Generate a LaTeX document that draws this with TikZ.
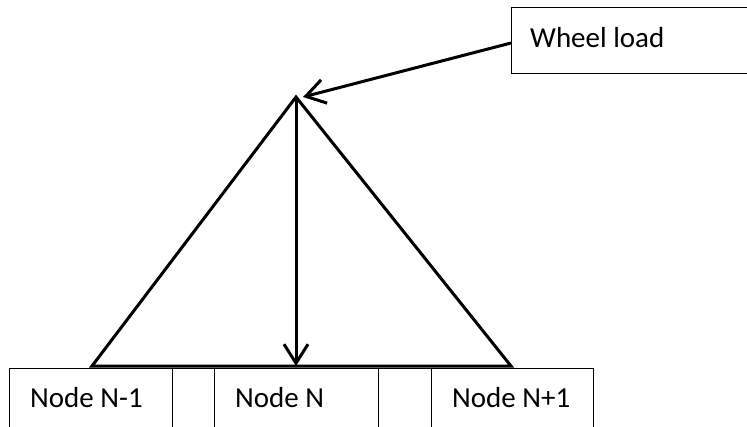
\documentclass[tikz,border=0pt]{standalone}
\usepackage{fontspec}
\setmainfont{Carlito}
\usetikzlibrary{arrows.meta}
\begin{document}
\begin{tikzpicture}[x=1pt,y=-1pt,
  cell/.style={draw, line width=1pt, minimum height=80pt, inner sep=0pt, anchor=north west},
  lbl/.style={font=\fontsize{29}{34}\selectfont, inner sep=0pt, anchor=base west},
  thickline/.style={line width=3pt, line join=miter},
  tip/.style={-{Straight Barb[length=19pt,width=24pt,line width=3pt]}}
]
\useasboundingbox (0,0) rectangle (747,426);
\clip (0,0) rectangle (747,426);
% bottom row of cells
\node[cell, minimum width=163pt] (c1) at (9,368) {};
\node[cell, minimum width=42pt]  (g1) at (172,368) {};
\node[cell, minimum width=164pt] (c2) at (214,368) {};
\node[cell, minimum width=53pt]  (g2) at (378,368) {};
\node[cell, minimum width=162pt] (c3) at (431,368) {};
\node[lbl] (t1) at (30,407) {Node N-1};
\node[lbl] (t2) at (235,407) {Node N};
\node[lbl] (t3) at (452,407) {Node N+1};
% wheel load box
\node[draw, line width=1pt, minimum width=250pt, minimum height=66pt, inner sep=0pt, anchor=north west] (wb) at (511,7) {};
\node[lbl] (wl) at (530,47) {Wheel load};
% triangle
\coordinate (L) at (92,366);
\coordinate (A) at (296,97);
\coordinate (R) at (511,366);
\coordinate (B) at (296,366);
\coordinate (W) at (511,43);
\coordinate (Wt) at (303,97);
\draw[thickline] (L) -- (A) -- (R) -- cycle;
\draw[thickline, tip] (A) -- (B);
\draw[thickline, tip] (W) -- (Wt);
\end{tikzpicture}
\end{document}
